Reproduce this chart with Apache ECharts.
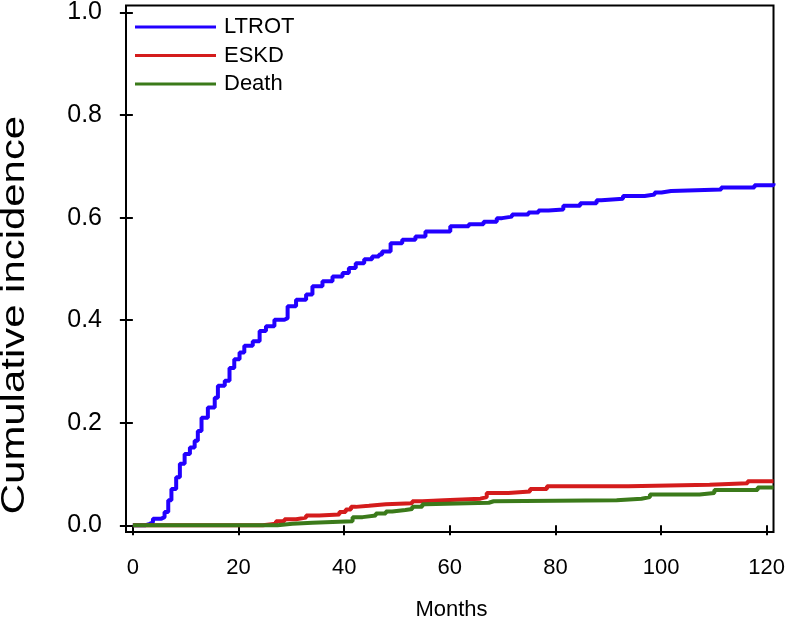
<!DOCTYPE html>
<html>
<head>
<meta charset="utf-8">
<script src="https://cdn.jsdelivr.net/npm/echarts@6/dist/echarts.min.js"></script>
<style>html,body{margin:0;padding:0;background:#fff}#c{width:788px;height:620px}</style>
</head>
<body>
<div id="c"></div>
<script>
// ---- data ----
const xTicks = [0, 20, 40, 60, 80, 100, 120];
const yTicks = [0, 0.2, 0.4, 0.6, 0.8, 1.0];
const seriesNames = ['LTROT', 'ESKD', 'Death'];

const ltrotMonths = [0, 2.3, 3.2, 3.8, 5.4, 6.0, 6.7, 7.3, 8.2, 8.9, 9.8, 10.8, 11.7, 12.3, 13.0, 14.2, 15.5, 16.1, 17.4, 18.3, 19.2, 20.2, 21.1, 22.7, 24.0, 25.2, 26.8, 28.7, 29.3, 30.9, 32.8, 34.0, 35.9, 37.8, 39.7, 40.9, 42.2, 43.8, 45.3, 46.6, 47.2, 48.8, 51.0, 53.5, 55.4, 60.1, 63.6, 66.4, 68.9, 69.9, 71.8, 74.9, 76.8, 78.7, 81.5, 84.7, 87.8, 88.7, 92.8, 96.9, 98.8, 100.1, 101.9, 111.4, 117.7, 121.3];
const ltrotValues = [0, 0.003, 0.006, 0.013, 0.016, 0.026, 0.049, 0.071, 0.094, 0.12, 0.139, 0.152, 0.165, 0.184, 0.21, 0.23, 0.249, 0.272, 0.282, 0.307, 0.324, 0.337, 0.35, 0.359, 0.379, 0.388, 0.401, 0.404, 0.427, 0.44, 0.45, 0.466, 0.476, 0.485, 0.492, 0.502, 0.511, 0.519, 0.524, 0.528, 0.534, 0.55, 0.557, 0.563, 0.573, 0.583, 0.587, 0.592, 0.599, 0.602, 0.606, 0.61, 0.614, 0.616, 0.623, 0.628, 0.634, 0.637, 0.642, 0.645, 0.649, 0.652, 0.655, 0.659, 0.663, 0.667];

const eskdMonths = [0, 24.6, 27.1, 28.7, 30.9, 32.8, 35.3, 39.1, 40.3, 41.3, 42.2, 44.7, 47.9, 52.9, 54.8, 58.9, 65.8, 67.0, 71.1, 75.2, 78.4, 93.8, 109.2, 116.4, 121.3];
const eskdValues = [0, 0.003, 0.008, 0.012, 0.015, 0.019, 0.021, 0.026, 0.031, 0.036, 0.038, 0.041, 0.043, 0.047, 0.049, 0.052, 0.055, 0.063, 0.066, 0.071, 0.076, 0.079, 0.082, 0.086, 0.086];

const deathMonths = [0, 27.4, 30.2, 34.0, 41.6, 43.5, 46.0, 47.9, 49.1, 51.6, 52.9, 54.8, 55.4, 67.4, 68.3, 91.6, 96.3, 97.9, 107.3, 110.1, 118.3, 121.3];
const deathValues = [0, 0.003, 0.005, 0.008, 0.016, 0.019, 0.023, 0.027, 0.030, 0.032, 0.036, 0.041, 0.044, 0.047, 0.049, 0.052, 0.055, 0.060, 0.063, 0.069, 0.074, 0.074];

const colors = ['#2200ff', '#d41c1c', '#3b7a1a'];
const FONT = "'Liberation Sans', Arial, Helvetica, sans-serif";

function pairs(xs, ys) { return xs.map((x, i) => [x, ys[i]]); }
const allData = [pairs(ltrotMonths, ltrotValues), pairs(eskdMonths, eskdValues), pairs(deathMonths, deathValues)];

const chart = echarts.init(document.getElementById('c'), null, {renderer: 'canvas'});
chart.setOption({
  animation: false,
  backgroundColor: '#fff',
  textStyle: {fontFamily: FONT},
  grid: {left: 126, top: 3, right: 12, bottom: 88, show: true, borderColor: '#000', borderWidth: 2, backgroundColor: 'transparent', containLabel: false},
  legend: {
    orient: 'vertical', left: 135, top: 16, padding: 0, itemWidth: 81, itemHeight: 3, itemGap: 6.5,
    icon: 'rect',
    data: seriesNames,
    textStyle: {fontSize: 22, color: '#000', fontFamily: FONT, lineHeight: 22, padding: [0, 0, 0, 3]}
  },
  xAxis: {
    type: 'value', min: -1.3, max: 121.3,
    axisLine: {show: false},
    splitLine: {show: false},
    axisTick: {show: true, length: 10, lineStyle: {color: '#000', width: 2}, customValues: xTicks},
    axisLabel: {fontSize: 22, color: '#000', fontFamily: FONT, margin: 25, customValues: xTicks, formatter: v => String(v)}
  },
  yAxis: {
    type: 'value', min: -0.013, max: 1.0136,
    axisLine: {show: false},
    splitLine: {show: false},
    axisTick: {show: true, length: 13, lineStyle: {color: '#000', width: 2}, customValues: yTicks},
    axisLabel: {fontSize: 25, color: '#000', fontFamily: FONT, margin: 24, customValues: yTicks, formatter: v => v.toFixed(1)}
  },
  graphic: [
    {type: 'text', x: 15, y: 315, rotation: Math.PI / 2, scaleX: 1.27,
     style: {text: 'Cumulative incidence', font: '33px ' + FONT, fill: '#000', align: 'center', verticalAlign: 'middle'}},
    {type: 'text', x: 451.5, y: 609.5,
     style: {text: 'Months', font: '22px ' + FONT, fill: '#000', align: 'center', verticalAlign: 'middle'}}
  ],
  series: seriesNames.map((name, i) => ({
    name: name, type: 'line', step: 'end', showSymbol: false, symbol: 'none',
    data: allData[i], clip: true,
    lineStyle: {color: colors[i], width: 4},
    itemStyle: {color: colors[i]}
  }))
});
</script>
</body>
</html>
